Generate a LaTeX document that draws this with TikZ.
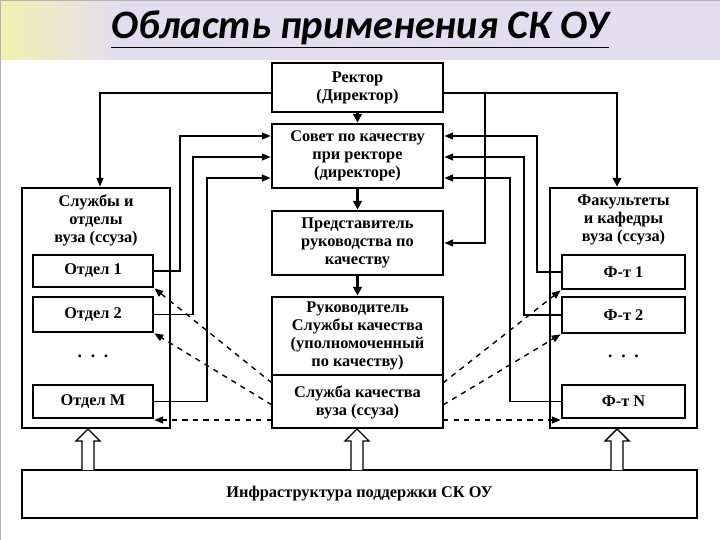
\documentclass[tikz,border=0pt]{standalone}
\usepackage{fontspec}
\setmainfont{Liberation Serif}
\newfontfamily\titlefont{Carlito}
\usetikzlibrary{arrows.meta}
\definecolor{lav}{HTML}{E2DEF0}
\definecolor{yel}{HTML}{F4F0B0}
\begin{document}
\begin{tikzpicture}[x=0.02cm,y=-0.02cm,
  bx/.style={draw,line width=1.6pt,fill=white,align=center,font=\bfseries\fontsize{9.3}{10.2}\selectfont},
  tx/.style={font=\bfseries\fontsize{9.3}{10.2}\selectfont,align=center},
  ln/.style={line width=0.7pt,-{Triangle[length=5pt,width=4pt]}},
  dl/.style={line width=0.8pt,dashed,-{Triangle[length=5pt,width=4pt]}},
  dn/.style={line width=1.2pt,-{Triangle[length=5pt,width=5pt]}},
  hol/.style={draw,line width=0.8pt,fill=white}]
\useasboundingbox (0,0) rectangle (720,540);
\fill[white] (0,0) rectangle (720,540);
\shade[left color=yel,right color=lav] (0,0) rectangle (120,60);
\fill[lav] (120,0) rectangle (720,60);
\draw[gray!60] (0,0) rectangle (720,540);
\node[font=\titlefont\bfseries\itshape\fontsize{23}{25}\selectfont] (title) at (360,30) {\underline{Область применения СК ОУ}};
% center column
\node[bx,minimum width=171*0.02cm,minimum height=49*0.02cm] (rec) at (357.5,87.5) {Ректор\\(Директор)};
\node[bx,minimum width=171*0.02cm,minimum height=64*0.02cm] (sov) at (357.5,156) {Совет по качеству\\при ректоре\\(директоре)};
\node[bx,minimum width=171*0.02cm,minimum height=64*0.02cm] (pre) at (357.5,243) {Представитель\\руководства по\\качеству};
\node[bx,minimum width=171*0.02cm,minimum height=131*0.02cm] (ruk) at (357.5,362.5) {};
\node[tx] (rukt) at (357.5,336) {Руководитель\\Службы качества\\(уполномоченный\\по качеству)};
\draw[line width=0.8pt] (272,375) -- (443,375);
\node[tx] (slu) at (357.5,402) {Служба качества\\вуза (ссуза)};
% left
\node[bx,minimum width=148*0.02cm,minimum height=240*0.02cm] (L) at (96,308) {};
\node[tx] (Lt) at (96,220) {Службы и\\отделы\\вуза (ссуза)};
\node[bx,minimum width=120*0.02cm,minimum height=32*0.02cm] (o1) at (93,271) {Отдел 1};
\node[bx,minimum width=120*0.02cm,minimum height=35*0.02cm] (o2) at (93,314.5) {Отдел 2};
\node[font=\bfseries] (ld) at (93,356) {.\ \ .\ \ .};
\node[bx,minimum width=120*0.02cm,minimum height=33*0.02cm] (om) at (93,401.5) {Отдел М};
% right
\node[bx,minimum width=147*0.02cm,minimum height=240*0.02cm] (R) at (623.5,308) {};
\node[tx] (Rt) at (623.5,220) {Факультеты\\и кафедры\\вуза (ссуза)};
\node[bx,minimum width=123*0.02cm,minimum height=34*0.02cm] (f1) at (623.5,272) {Ф-т 1};
\node[bx,minimum width=123*0.02cm,minimum height=36*0.02cm] (f2) at (623.5,315) {Ф-т 2};
\node[font=\bfseries] (rd) at (623.5,356) {.\ \ .\ \ .};
\node[bx,minimum width=123*0.02cm,minimum height=33*0.02cm] (fn) at (623.5,401.5) {Ф-т N};
% bottom
\node[bx,minimum width=675*0.02cm,minimum height=48*0.02cm] (inf) at (359.5,494) {Инфраструктура поддержки СК ОУ};
\foreach \x in {88,357,617}
  \draw[hol] (\x-6,470) -- (\x-6,441) -- (\x-12,441) -- (\x,429) -- (\x+12,441) -- (\x+6,441) -- (\x+6,470);
% vertical chain
\draw[dn] (rec) -- (sov);
\draw[dn] (sov) -- (pre);
\draw[dn] (pre) -- (ruk);
% rector
\draw[ln] (rec.west |- 0,93) -| (L.north -| 100,0);
\draw[dn] (rec.east |- 0,93) -| (R.north -| 617,0);
\draw[ln] (485,93) |- (pre.east |- 0,243);
% feedback
\draw[ln] (o1.east) -| (180,136) -- (sov.west |- 0,136);
\draw[ln] (o2.east) -| (193,157) -- (sov.west |- 0,157);
\draw[ln] (om.east) -| (207,178) -- (sov.west |- 0,178);
\draw[ln] (f1.west) -| (537,136) -- (sov.east |- 0,136);
\draw[ln] (f2.west) -| (524,157) -- (sov.east |- 0,157);
\draw[ln] (fn.west) -| (510,178) -- (sov.east |- 0,178);
% dashed
\draw[dl] (272,383) -- (o1.south east);
\draw[dl] (272,405) -- (o2.south east);
\draw[dl] (272,420) -- (om.east |- 0,420);
\draw[dl] (443,383) -- (f1.south west);
\draw[dl] (443,405) -- (f2.south west);
\draw[dl] (443,420) -- (fn.west |- 0,420);
\end{tikzpicture}
\end{document}
